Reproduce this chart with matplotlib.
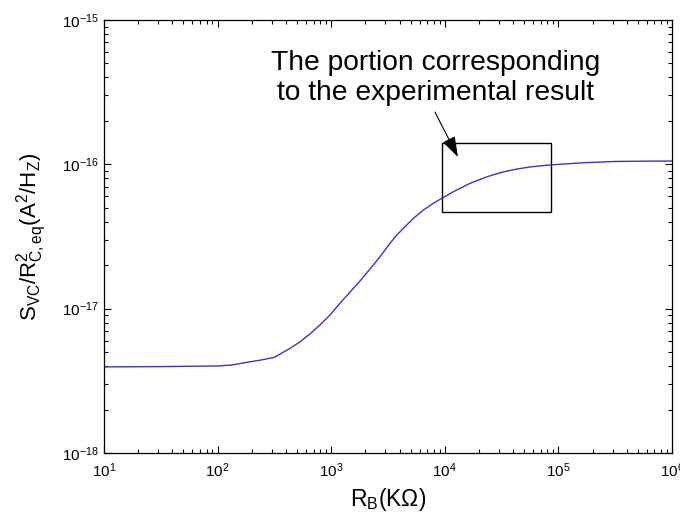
import matplotlib
matplotlib.use("Agg")
import matplotlib.pyplot as plt
from matplotlib.patches import Rectangle

plt.rcParams['font.family'] = ['Liberation Sans', 'DejaVu Sans']
plt.rcParams['mathtext.fontset'] = 'custom'
plt.rcParams['mathtext.rm'] = 'Liberation Sans'
plt.rcParams['mathtext.it'] = 'Liberation Sans:italic'
plt.rcParams['mathtext.bf'] = 'Liberation Sans:bold'
plt.rcParams['axes.unicode_minus'] = False

# base resistance (kOhm) and normalised collector noise (A^2/Hz)
rb = [10, 31.6, 100, 133, 178, 237, 316, 434, 531, 650, 796, 975, 1194,
      1462, 1795, 2198, 2692, 3296, 3776, 4315, 5284, 6471, 7925, 9397,
      11885, 16672, 23714, 31623, 42170, 56234, 74989, 100000, 177828,
      316228, 562341, 1000000]
svc = [3.95e-18, 3.97e-18, 4.01e-18, 4.07e-18, 4.24e-18, 4.40e-18,
       4.60e-18, 5.31e-18, 5.89e-18, 6.68e-18, 7.71e-18, 9.03e-18,
       1.089e-17, 1.30e-17, 1.556e-17, 1.884e-17, 2.29e-17, 2.84e-17,
       3.23e-17, 3.60e-17, 4.22e-17, 4.82e-17, 5.37e-17, 5.81e-17,
       6.46e-17, 7.38e-17, 8.22e-17, 8.80e-17, 9.25e-17, 9.59e-17,
       9.82e-17, 1.00e-16, 1.028e-16, 1.047e-16, 1.052e-16, 1.054e-16]

# region matching the measurements
box_x = [9400, 85500]
box_y = [4.65e-17, 1.41e-16]
arrow_from = (8200, 2.30e-16)
arrow_to = (13060, 1.125e-16)
note = "The portion corresponding\nto the experimental result"

fig = plt.figure(figsize=(6.8, 5.25), dpi=100)
ax = fig.add_axes([0.1529, 0.1371, 0.8353, 0.8248])

ax.plot(rb, svc, color='#3838b4', lw=1.0)
ax.set_xscale('log')
ax.set_yscale('log')
ax.set_xlim(1e1, 1e6)
ax.set_ylim(1e-18, 1e-15)

ax.add_patch(Rectangle((box_x[0], box_y[0]), box_x[1] - box_x[0],
                       box_y[1] - box_y[0], fill=False, ec='k', lw=1.0))
ax.annotate('', xy=arrow_to, xytext=arrow_from,
            arrowprops=dict(arrowstyle='-|>,head_length=0.9,head_width=0.3',
                            color='k', lw=0.8, shrinkA=0, shrinkB=0,
                            mutation_scale=14))
fig.text(0.641, 0.851, note, ha='center', va='center', fontsize=20.3,
         linespacing=1.22)

ax.tick_params(which='both', direction='in', top=True, right=True,
               labelsize=11, width=0.8)
ax.tick_params(which='major', length=5)
ax.tick_params(which='minor', length=3)
ax.tick_params(axis='x', pad=6)
ax.tick_params(axis='y', pad=4)
for s in ax.spines.values():
    s.set_linewidth(0.9)

ax.set_xlabel(r'$\mathregular{R_B(K\Omega)}$', fontsize=16.5, labelpad=4)
ax.set_ylabel(r'$\mathregular{S_{VC}/R^2_{C,eq}(A^2/H_Z)}$', fontsize=16,
              labelpad=9)

fig.savefig('out.png', dpi=100)
